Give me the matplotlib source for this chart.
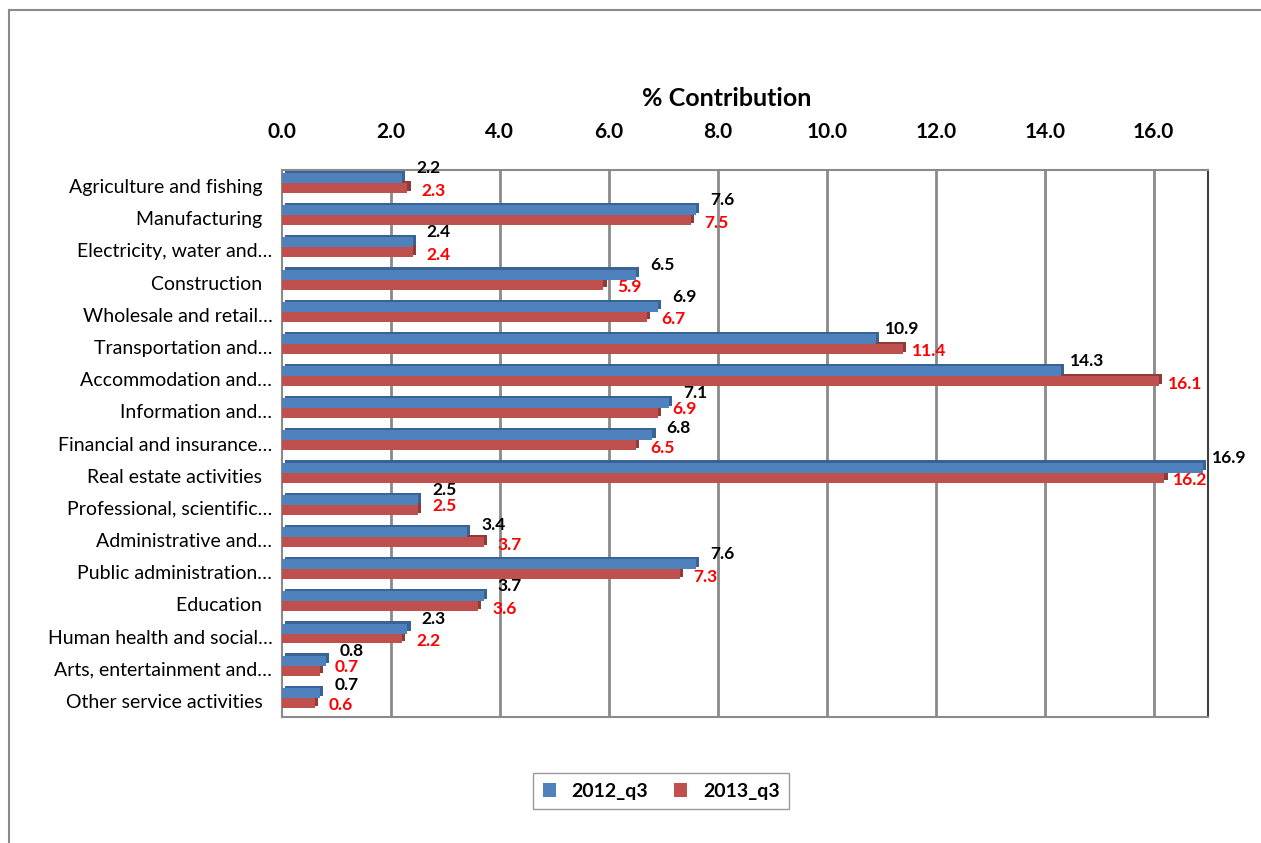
import numpy as np
import matplotlib.pyplot as plt
from matplotlib.lines import Line2D
from matplotlib.patches import Patch

# data
sectors = ["Agriculture and fishing  ", "Manufacturing  ", "Electricity, water and…",
           "Construction  ", "Wholesale and retail…", "Transportation and…",
           "Accommodation and…", "Information and…", "Financial and insurance…",
           "Real estate activities  ", "Professional, scientific…", "Administrative and…",
           "Public administration…", "Education  ", "Human health and social…",
           "Arts, entertainment and…", "Other service activities  "]
q3_2012 = [2.2, 7.6, 2.4, 6.5, 6.9, 10.9, 14.3, 7.1, 6.8, 16.9, 2.5, 3.4, 7.6, 3.7, 2.3, 0.8, 0.7]
q3_2013 = [2.3, 7.5, 2.4, 5.9, 6.7, 11.4, 16.1, 6.9, 6.5, 16.2, 2.5, 3.7, 7.3, 3.6, 2.2, 0.7, 0.6]
xticks = [0, 2, 4, 6, 8, 10, 12, 14, 16]

plt.rcParams['font.family'] = ['Lato', 'DejaVu Sans']

blue, blue_dark = '#4F81BD', '#3A6294'
red, red_dark = '#C0504D', '#8F3B39'

fig = plt.figure(figsize=(12.61, 8.43), dpi=100)
ax = fig.add_axes([282 / 1261, 1 - 717 / 843, 926 / 1261, 547 / 843])

y = np.arange(len(sectors))
h = 0.31
dx, dy = 0.06, 0.07  # fake 3D depth

# darker "depth" faces behind, then front faces
ax.barh(y - 0.25 - dy, q3_2012, height=h, left=dx, color=blue_dark, zorder=2)
ax.barh(y - 0.25, q3_2012, height=h, color=blue, zorder=3)
ax.barh(y + 0.06 - dy, q3_2013, height=h, left=dx, color=red_dark, zorder=2)
ax.barh(y + 0.06, q3_2013, height=h, color=red, zorder=3)

# value labels: black above-right of blue, red below-right of red;
# squeeze a pair together when a red label sits right above the next black one
n = len(sectors)
off_b = np.full(n, -0.56)
off_r = np.full(n, 0.14)
for i in range(n - 1):
    if abs(q3_2013[i] - q3_2012[i + 1]) < 0.9:
        off_r[i] = -0.06
        off_b[i + 1] = -0.48
for i in range(n):
    ax.text(q3_2012[i] + 0.48, y[i] + off_b[i], f"{q3_2012[i]:.1f}", ha='center', va='center',
            fontsize=12.5, fontweight='bold', color='black', zorder=5)
    ax.text(q3_2013[i] + 0.48, y[i] + off_r[i], f"{q3_2013[i]:.1f}", ha='center', va='center',
            fontsize=12.5, fontweight='bold', color='red', zorder=5)

ax.set_xlim(0, 17)
ax.set_ylim(16.5, -0.5)
ax.set_yticks(y)
ax.set_yticklabels(sectors, fontsize=14)
ax.tick_params(axis='y', length=0, pad=7)
ax.set_xticks(xticks)
ax.set_xticklabels([f"{t:.1f}" for t in xticks], fontsize=15, fontweight='bold')
ax.xaxis.tick_top()
ax.tick_params(axis='x', length=0, pad=20)
ax.set_title("% Contribution", fontsize=18, fontweight='bold', pad=46, x=0.48)

for t in xticks[1:]:
    ax.axvline(t, color='#8A8A8A', lw=2, zorder=1)
for s in ['left', 'bottom', 'top']:
    ax.spines[s].set_color('#8A8A8A')
    ax.spines[s].set_linewidth(1.5)
ax.spines['right'].set_color('#404040')
ax.spines['right'].set_linewidth(1.5)

handles = [Patch(facecolor=blue), Patch(facecolor=red)]
leg = fig.legend(handles, ["2012_q3", "2013_q3"], loc='center',
                 bbox_to_anchor=(661 / 1261, 1 - 791 / 843),
                 ncol=2, fancybox=False, edgecolor='#808080', handlelength=0.7, handleheight=0.7,
                 prop={'weight': 'bold', 'size': 14}, columnspacing=1.3, borderpad=0.5)
leg.get_frame().set_linewidth(1)

# outer chart border
fig.add_artist(Line2D([9 / 1261, 9 / 1261], [0, 1 - 10 / 843], color='#8A8A8A', lw=1.5))
fig.add_artist(Line2D([9 / 1261, 1], [1 - 10 / 843, 1 - 10 / 843], color='#8A8A8A', lw=1.5))

fig.savefig("out.png", dpi=100)
